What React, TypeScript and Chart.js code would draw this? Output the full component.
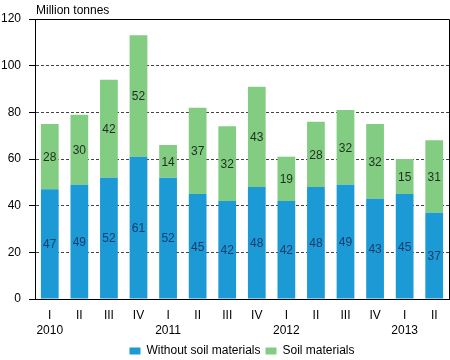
import React, { useEffect, useRef } from 'react';
import { Chart, registerables } from 'chart.js';

Chart.register(...registerables);

const quarters = ['I', 'II', 'III', 'IV', 'I', 'II', 'III', 'IV', 'I', 'II', 'III', 'IV', 'I', 'II'];
const years = ['2010', '', '', '', '2011', '', '', '', '2012', '', '', '', '2013', ''];
const withoutSoil = [47, 49, 52, 61, 52, 45, 42, 48, 42, 48, 49, 43, 45, 37];
const soilMaterials = [28, 30, 42, 52, 14, 37, 32, 43, 19, 28, 32, 32, 15, 31];
const seriesNames = ['Without soil materials', 'Soil materials'];
const yTitle = 'Million tonnes';

const FONT = 'Arial, "Liberation Sans", sans-serif';
const BLUE = '#1b9ad6';
const GREEN = '#82cd82';

const labelPlugin = {
  id: 'segLabels',
  afterDatasetsDraw(chart: any) {
    const ctx = chart.ctx;
    ctx.save();
    ctx.font = `12px ${FONT}`;
    ctx.textAlign = 'center';
    ctx.textBaseline = 'middle';
    chart.data.datasets.forEach((ds: any, di: number) => {
      const meta = chart.getDatasetMeta(di);
      ctx.fillStyle = di === 0 ? '#1c3b6b' : '#1f2f1f';
      meta.data.forEach((bar: any, i: number) => {
        const y = (bar.y + bar.base) / 2;
        ctx.fillText(String(ds.data[i]), bar.x, y + 1);
      });
    });
    ctx.restore();
  },
  afterDraw(chart: any) {
    const { ctx, chartArea } = chart;
    ctx.save();
    ctx.strokeStyle = '#000';
    ctx.lineWidth = 1;
    ctx.beginPath();
    ctx.moveTo(chartArea.left, Math.round(chartArea.top) + 0.5);
    ctx.lineTo(Math.round(chartArea.right) + 0.5, Math.round(chartArea.top) + 0.5);
    ctx.lineTo(Math.round(chartArea.right) + 0.5, chartArea.bottom);
    ctx.stroke();
    ctx.fillStyle = '#000';
    ctx.font = `12px ${FONT}`;
    ctx.textAlign = 'left';
    ctx.textBaseline = 'middle';
    ctx.fillText(yTitle, chartArea.left + 1, chartArea.top - 8);
    ctx.restore();
  },
};

export default function App() {
  const ref = useRef<HTMLCanvasElement>(null);
  useEffect(() => {
    document.body.style.margin = '0';
    const chart = new Chart(ref.current!, {
      type: 'bar',
      data: {
        labels: quarters.map((q, i) => [q, years[i]]),
        datasets: [
          { label: seriesNames[0], data: withoutSoil, backgroundColor: BLUE, categoryPercentage: 1, barPercentage: 0.6 },
          { label: seriesNames[1], data: soilMaterials, backgroundColor: GREEN, categoryPercentage: 1, barPercentage: 0.6 },
        ],
      },
      options: {
        animation: false,
        responsive: false,
        maintainAspectRatio: false,
        layout: { padding: { top: 19, right: 1, left: 0, bottom: -7 } },
        plugins: {
          legend: {
            position: 'bottom',
            fullSize: false,
            labels: {
              boxWidth: 11,
              boxHeight: 7,
              padding: 5,
              color: '#000',
              font: { family: FONT, size: 12 },
            },
          },
          tooltip: { enabled: false },
        },
        scales: {
          x: {
            stacked: true,
            grid: { display: false, drawTicks: false },
            border: { color: '#000' },
            ticks: {
              color: '#000',
              font: { family: FONT, size: 12, lineHeight: 1.25 },
              maxRotation: 0,
              autoSkip: false,
              padding: 9,
            },
            afterFit: (scale: any) => {
              scale.height = 41;
            },
          },
          y: {
            stacked: true,
            min: 0,
            max: 120,
            ticks: { stepSize: 20, color: '#000', font: { family: FONT, size: 12 }, padding: 8 },
            grid: {
              color: (c: any) => (c.tick && (c.tick.value === 0 || c.tick.value === 120) ? 'rgba(0,0,0,0)' : '#444'),
              tickColor: '#000',
              tickLength: 6,
              tickBorderDash: [],
            },
            border: { color: '#000', dash: [3, 2] },
            afterFit: (scale: any) => {
              scale.width = 35;
            },
          },
        },
      },
      plugins: [labelPlugin],
    });
    return () => chart.destroy();
  }, []);
  return (
    <div style={{ width: 450, height: 360, position: 'relative' }}>
      <canvas ref={ref} width={450} height={360} style={{ display: 'block' }} />
    </div>
  );
}
